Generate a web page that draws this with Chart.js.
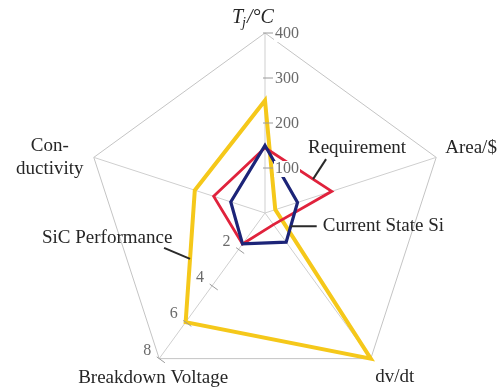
<!DOCTYPE html>
<html>
<head>
<meta charset="utf-8">
<script src="https://cdn.jsdelivr.net/npm/chart.js@4.4.1/dist/chart.umd.min.js"></script>
<style>
  html, body { margin: 0; padding: 0; background: #ffffff; }
  #wrap { width: 498px; height: 391px; position: relative; }
</style>
</head>
<body>
<div id="wrap"><canvas id="radar" width="498" height="391"></canvas></div>
<script>
// Axes, clockwise from the top
const axes = ['Tj/°C', 'Area/$', 'dv/dt', 'Breakdown Voltage', 'Conductivity'];
// Full-scale value of each axis (Area, dv/dt and conductivity are relative)
const axisMax = [400, 1, 1, 8, 1];

// Series values in axis units
const requirement    = [145, 0.39, 0.08, 1.7, 0.30];
const currentSi      = [150, 0.19, 0.20, 1.7, 0.20];
const sicPerformance = [250, 0.06, 1.00, 6.0, 0.41];

// Tick labels drawn along the junction-temperature and voltage axes
const tjTicks = [100, 200, 300, 400];
const voltageTicks = [2, 4, 6, 8];

const SERIF = '"Liberation Serif", "Times New Roman", "DejaVu Serif", serif';
const norm = (vals) => vals.map((v, i) => v / axisMax[i]);

// Geometry of the pentagon on the canvas
const CENTER_X = 265, CENTER_Y = 213, RADIUS = 180;

function line(ctx, x1, y1, x2, y2) {
  ctx.beginPath(); ctx.moveTo(x1, y1); ctx.lineTo(x2, y2); ctx.stroke();
}

// Tick text with a white backdrop so it sits above the series lines
function tickText(ctx, text, x, y, align) {
  const w = ctx.measureText(text).width;
  const left = align === 'center' ? x - w / 2 : x;
  ctx.save();
  ctx.fillStyle = '#ffffff';
  ctx.fillRect(left - 1, y - 8, w + 2, 16);
  ctx.restore();
  ctx.fillText(text, x, y);
}

// Point on a polygon edge between two axes of one series
function edgePoint(scale, series, a, b, t) {
  const p = scale.getPointPositionForValue(a, series[a] / axisMax[a]);
  const q = scale.getPointPositionForValue(b, series[b] / axisMax[b]);
  return { x: p.x + (q.x - p.x) * t, y: p.y + (q.y - p.y) * t };
}

const overlay = {
  id: 'overlay',
  afterDatasetsDraw(chart) {
    const ctx = chart.ctx;
    const r = chart.scales.r;
    ctx.save();

    // Tj ticks on the top axis
    ctx.strokeStyle = '#9a9a9a';
    ctx.lineWidth = 1;
    ctx.fillStyle = '#6a6a6a';
    ctx.font = '16px ' + SERIF;
    ctx.textBaseline = 'middle';
    ctx.textAlign = 'left';
    tjTicks.forEach(v => {
      const p = r.getPointPositionForValue(0, v / axisMax[0]);
      line(ctx, p.x - 2, p.y, p.x + 8, p.y);
      tickText(ctx, String(v), p.x + 10, p.y + 1, 'left');
    });

    // Breakdown voltage ticks
    ctx.textAlign = 'center';
    voltageTicks.forEach(v => {
      const p = r.getPointPositionForValue(3, v / axisMax[3]);
      line(ctx, p.x - 3 * 0.809, p.y - 3 * 0.588, p.x + 7 * 0.809, p.y + 7 * 0.588);
      tickText(ctx, String(v), p.x - 12, p.y - 8, 'center');
    });

    // Axis titles
    ctx.fillStyle = '#262626';
    ctx.textBaseline = 'middle';
    const top = r.getPointPosition(0, r.drawingArea);
    let x = top.x - 33, y = top.y - 15;
    ctx.textAlign = 'left';
    ctx.font = 'italic 20px ' + SERIF;
    ctx.fillText('T', x, y);
    x += ctx.measureText('T').width - 1;
    ctx.font = 'italic 14px ' + SERIF;
    ctx.fillText('j', x, y + 5);
    x += ctx.measureText('j').width + 1;
    ctx.font = 'italic 20px ' + SERIF;
    ctx.fillText('/°C', x, y);

    ctx.font = '19px ' + SERIF;
    const area = r.getPointPosition(1, r.drawingArea);
    ctx.textAlign = 'left';
    ctx.fillText('Area/$', area.x + 9, area.y - 9);

    const dvdt = r.getPointPosition(2, r.drawingArea);
    ctx.textAlign = 'center';
    ctx.fillText('dv/dt', dvdt.x + 24, dvdt.y + 18);

    const bv = r.getPointPosition(3, r.drawingArea);
    ctx.fillText('Breakdown Voltage', bv.x - 6, bv.y + 19);

    const cond = r.getPointPosition(4, r.drawingArea);
    ctx.fillText('Con-', cond.x - 44, cond.y - 11);
    ctx.fillText('ductivity', cond.x - 44, cond.y + 12);

    // Series call-outs with leader lines
    ctx.strokeStyle = '#2a2a2a';
    ctx.lineWidth = 2;
    let e = edgePoint(r, requirement, 0, 1, 0.72);
    line(ctx, e.x + 13, e.y - 20, e.x, e.y);
    ctx.textAlign = 'left';
    ctx.fillText('Requirement', 308, 148);

    e = edgePoint(r, currentSi, 1, 2, 0.6);
    line(ctx, e.x, e.y, e.x + 26, e.y);
    ctx.fillText('Current State Si', e.x + 32, e.y);

    e = edgePoint(r, sicPerformance, 4, 3, 0.52);
    line(ctx, e.x - 26, e.y - 11, e.x, e.y);
    ctx.fillText('SiC Performance', 42, 238);

    ctx.restore();
  }
};

new Chart(document.getElementById('radar'), {
  type: 'radar',
  data: {
    labels: axes,
    datasets: [
      {
        label: 'Current State Si',
        data: norm(currentSi),
        borderColor: '#1c2478',
        borderWidth: 3.2,
        order: 0
      },
      {
        label: 'Requirement',
        data: norm(requirement),
        borderColor: '#e0223c',
        borderWidth: 2.8,
        order: 1
      },
      {
        label: 'SiC Performance',
        data: norm(sicPerformance),
        borderColor: '#f5c81a',
        borderWidth: 4,
        order: 2
      }
    ]
  },
  options: {
    responsive: false,
    devicePixelRatio: 1,
    animation: false,
    events: [],
    elements: {
      line: { fill: false, tension: 0, borderJoinStyle: 'miter' },
      point: { radius: 0, hoverRadius: 0 }
    },
    plugins: { legend: { display: false }, tooltip: { enabled: false } },
    scales: {
      r: {
        min: 0,
        max: 1,
        ticks: { display: false, stepSize: 1 },
        grid: { color: '#c4c4c4', lineWidth: 1 },
        angleLines: { color: '#cfcfcf', lineWidth: 1 },
        pointLabels: { display: false },
        afterFit(scale) {
          scale.xCenter = CENTER_X;
          scale.yCenter = CENTER_Y;
          scale.drawingArea = RADIUS;
        }
      }
    }
  },
  plugins: [overlay]
});
</script>
</body>
</html>
